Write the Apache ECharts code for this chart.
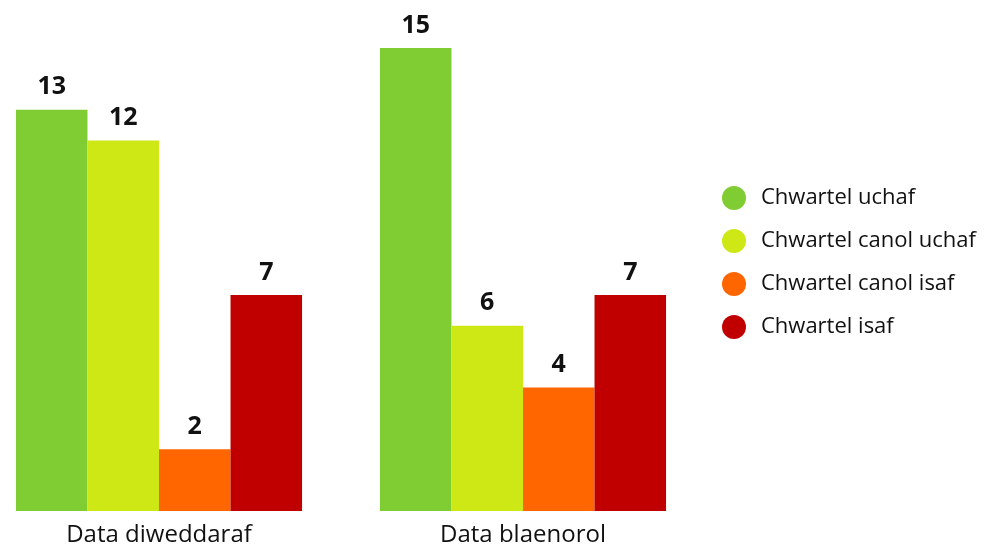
<!DOCTYPE html>
<html>
<head>
<meta charset="utf-8">
<script src="https://cdn.jsdelivr.net/npm/echarts@6/dist/echarts.min.js"></script>
<style>
  html, body { margin: 0; padding: 0; background: #fff; overflow: hidden; }
  /* shifted left so the first group can sit closer to the edge */
  #chart { position: absolute; left: -23px; top: 0; width: 1025px; height: 547px; }
</style>
</head>
<body>
<div id="chart"></div>
<script>
var categories = ['Data diweddaraf', 'Data blaenorol'];
var seriesNames = ['Chwartel uchaf', 'Chwartel canol uchaf', 'Chwartel canol isaf', 'Chwartel isaf'];
var uchaf = [13, 15];
var canolUchaf = [12, 6];
var canolIsaf = [2, 4];
var isaf = [7, 7];
var colors = ['#80cc33', '#cde815', '#ff6600', '#c00000'];

var allValues = [uchaf, canolUchaf, canolIsaf, isaf];
var myChart = echarts.init(document.getElementById('chart'));

var series = allValues.map(function (vals, i) {
  return {
    name: seriesNames[i],
    type: 'bar',
    data: vals,
    barGap: '0%',
    barCategoryGap: '21.4%',
    itemStyle: { color: colors[i] },
    label: {
      show: true,
      position: 'top',
      distance: 10,
      color: '#111',
      fontSize: 25,
      fontWeight: 'bold',
      fontFamily: 'Open Sans'
    }
  };
});

var option = {
  animation: false,
  grid: { left: 0, right: 297, top: 48, bottom: 36, outerBoundsMode: 'none' },
  legend: {
    orient: 'vertical',
    left: 740,
    top: 181,
    icon: 'circle',
    itemWidth: 24,
    itemHeight: 24,
    itemGap: 19,
    textStyle: {
      fontSize: 22,
      color: '#111',
      fontFamily: 'Open Sans',
      padding: [0, 0, 0, 10]
    },
    data: seriesNames
  },
  xAxis: {
    type: 'category',
    data: categories,
    axisLine: { show: false },
    axisTick: { show: false },
    axisLabel: {
      fontSize: 24,
      color: '#111',
      fontFamily: 'Open Sans',
      margin: 12
    }
  },
  yAxis: {
    type: 'value',
    min: 0,
    max: 15,
    show: false,
    splitLine: { show: false }
  },
  series: series
};

myChart.setOption(option, true);
</script>
</body>
</html>
